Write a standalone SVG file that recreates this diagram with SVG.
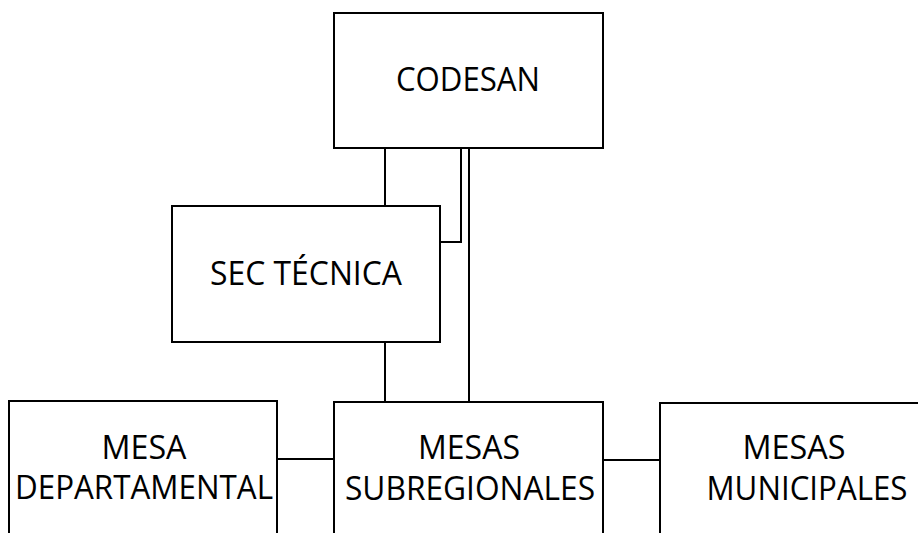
<svg xmlns="http://www.w3.org/2000/svg" width="918" height="533" viewBox="0 0 918 533">
<style>
.box{fill:#fff;stroke:#000;stroke-width:2}
.con{fill:none;stroke:#000;stroke-width:2}
.lbl{font-family:"Open Sans","Liberation Sans",sans-serif;font-size:32px;fill:#000;text-anchor:middle}
</style>
<rect width="918" height="533" fill="#fff"/>
<g id="connectors">
<path class="con" d="M385 148V206"/>
<path class="con" d="M385 342V402"/>
<path class="con" d="M461 148V242H440"/>
<path class="con" d="M469 148V402"/>
<path class="con" d="M277 459H334"/>
<path class="con" d="M603 460H660"/>
</g>
<g id="codesan">
<rect class="box" x="334" y="13" width="269" height="135"/>
<text class="lbl" x="468" y="91" textLength="144" lengthAdjust="spacingAndGlyphs">CODESAN</text>
</g>
<g id="sec-tecnica">
<rect class="box" x="172" y="206" width="268" height="136"/>
<text class="lbl" x="306" y="285" textLength="192" lengthAdjust="spacingAndGlyphs">SEC TÉCNICA</text>
</g>
<g id="mesa-departamental">
<rect class="box" x="9" y="401" width="268" height="150"/>
<text class="lbl" x="144" y="459" textLength="85" lengthAdjust="spacingAndGlyphs">MESA</text>
<text class="lbl" x="144" y="499" textLength="258" lengthAdjust="spacingAndGlyphs">DEPARTAMENTAL</text>
</g>
<g id="mesas-subregionales">
<rect class="box" x="334" y="402" width="269" height="150"/>
<text class="lbl" x="469" y="459" textLength="102" lengthAdjust="spacingAndGlyphs">MESAS</text>
<text class="lbl" x="470" y="500" textLength="250" lengthAdjust="spacingAndGlyphs">SUBREGIONALES</text>
</g>
<g id="mesas-municipales">
<rect class="box" x="660" y="403" width="300" height="150"/>
<text class="lbl" x="794" y="459" textLength="103" lengthAdjust="spacingAndGlyphs">MESAS</text>
<text class="lbl" x="807" y="500" textLength="201" lengthAdjust="spacingAndGlyphs">MUNICIPALES</text>
</g>
</svg>
